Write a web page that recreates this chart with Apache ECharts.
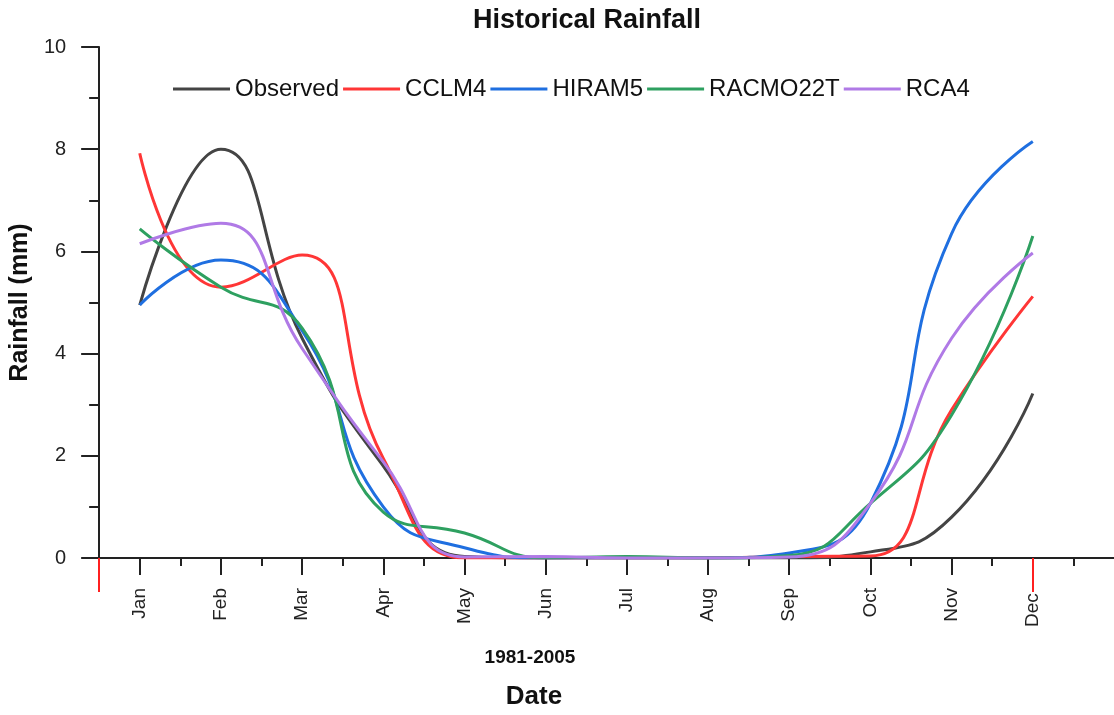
<!DOCTYPE html>
<html>
<head>
<meta charset="utf-8">
<script src="https://cdn.jsdelivr.net/npm/echarts@6/dist/echarts.min.js"></script>
<style>
  html, body { margin: 0; padding: 0; background: #fff; }
  #chart { width: 1114px; height: 715px; }
</style>
</head>
<body>
<div id="chart"></div>
<script>
// monthly mean rainfall (mm), 1981-2005
const months = ["Jan", "Feb", "Mar", "Apr", "May", "Jun", "Jul", "Aug", "Sep", "Oct", "Nov", "Dec"];
const observed = [4.95, 8.0, 4.3, 1.8, 0.03, 0, 0, 0, 0, 0.12, 0.8, 3.22];
const cclm4 = [7.92, 5.3, 5.93, 1.95, 0, 0, 0, 0, 0.03, 0.04, 2.9, 5.12];
const hiram5 = [4.95, 5.83, 4.45, 1.0, 0.2, 0, 0, 0, 0.1, 1.07, 6.35, 8.15];
const racmo22t = [6.44, 5.3, 4.5, 0.9, 0.49, 0, 0.03, 0, 0.05, 1.07, 2.8, 6.3];
const rca4 = [6.15, 6.55, 4.1, 1.88, 0.02, 0.03, 0, 0, 0.02, 1.07, 4.3, 5.97];
const yTicks = [0, 2, 4, 6, 8, 10];

const seriesNames = ["Observed", "CCLM4", "HIRAM5", "RACMO22T", "RCA4"];
const seriesValues = [observed, cclm4, hiram5, racmo22t, rca4];
const colors = ["#444444", "#ff3636", "#1f6fe0", "#2ea060", "#b07ae6"];

const font = "Arial, 'Liberation Sans', sans-serif";
const monthPos = months.map((m, i) => i + 1);
const minorPos = months.map((m, i) => i + 1.5);

const chart = echarts.init(document.getElementById("chart"));

// extra x axes only carry ticks (minor ones, red markers)
const baseX = {
  type: "value",
  min: 0.5,
  max: 13,
  position: "bottom",
  splitLine: { show: false },
  axisLabel: { show: false },
  axisLine: { show: false }
};

const option = {
  animation: false,
  color: colors,
  title: [
    {
      text: "Historical Rainfall",
      left: 587, top: 7, textAlign: "center", padding: 0,
      textStyle: { fontFamily: font, fontSize: 27, fontWeight: "bold", color: "#111" }
    },
    {
      text: "1981-2005",
      left: 530, top: 648, textAlign: "center", padding: 0,
      textStyle: { fontFamily: font, fontSize: 19, fontWeight: "bold", color: "#111" }
    },
    {
      text: "Date",
      left: 534, top: 684, textAlign: "center", padding: 0,
      textStyle: { fontFamily: font, fontSize: 26, fontWeight: "bold", color: "#111" }
    }
  ],
  legend: {
    data: seriesNames,
    left: 173,
    top: 77,
    icon: "rect",
    itemWidth: 57,
    itemHeight: 3,
    itemGap: 4,
    padding: 0,
    textStyle: { fontFamily: font, fontSize: 24, color: "#111" }
  },
  grid: { left: 96, right: 0, top: 47, bottom: 157, containLabel: false },
  xAxis: [
    {
      type: "value",
      min: 0.5,
      max: 13,
      position: "bottom",
      splitLine: { show: false },
      axisLine: { show: true, onZero: false, lineStyle: { color: "#222", width: 2 } },
      axisTick: { show: true, length: 17, lineStyle: { color: "#222", width: 2 }, customValues: monthPos },
      axisLabel: {
        show: true,
        customValues: monthPos,
        rotate: 90,
        margin: 30,
        fontFamily: font,
        fontSize: 19,
        color: "#222",
        formatter: (v) => {
          const m = months[Math.round(v) - 1] || "";
          return m === "Dec" ? m + "\u00a0" : m;
        }
      }
    },
    Object.assign({}, baseX, {
      axisTick: { show: true, length: 8, lineStyle: { color: "#222", width: 2 }, customValues: minorPos }
    }),
    Object.assign({}, baseX, {
      z: 5,
      axisTick: { show: true, length: 34, lineStyle: { color: "#ff2020", width: 2 }, customValues: [0.5, 12] }
    })
  ],
  yAxis: {
    type: "value",
    min: 0,
    max: 10,
    interval: 2,
    name: "Rainfall (mm)",
    nameLocation: "middle",
    nameGap: 43,
    nameTextStyle: { fontFamily: font, fontSize: 25, fontWeight: "bold", color: "#111" },
    splitLine: { show: false },
    axisLine: { show: true, lineStyle: { color: "#222", width: 2 } },
    axisTick: { show: true, length: 18, lineStyle: { color: "#222", width: 2 } },
    minorTick: { show: true, splitNumber: 2, length: 10, lineStyle: { color: "#222", width: 2 } },
    axisLabel: { margin: 33, fontFamily: font, fontSize: 20, color: "#222", customValues: yTicks }
  },
  series: seriesNames.map((name, k) => ({
    name: name,
    type: "line",
    xAxisIndex: 0,
    smooth: 0.5,
    symbol: "none",
    clip: true,
    lineStyle: { width: 3 },
    data: seriesValues[k].map((v, i) => [monthPos[i], v])
  }))
};

chart.setOption(option);
</script>
</body>
</html>
